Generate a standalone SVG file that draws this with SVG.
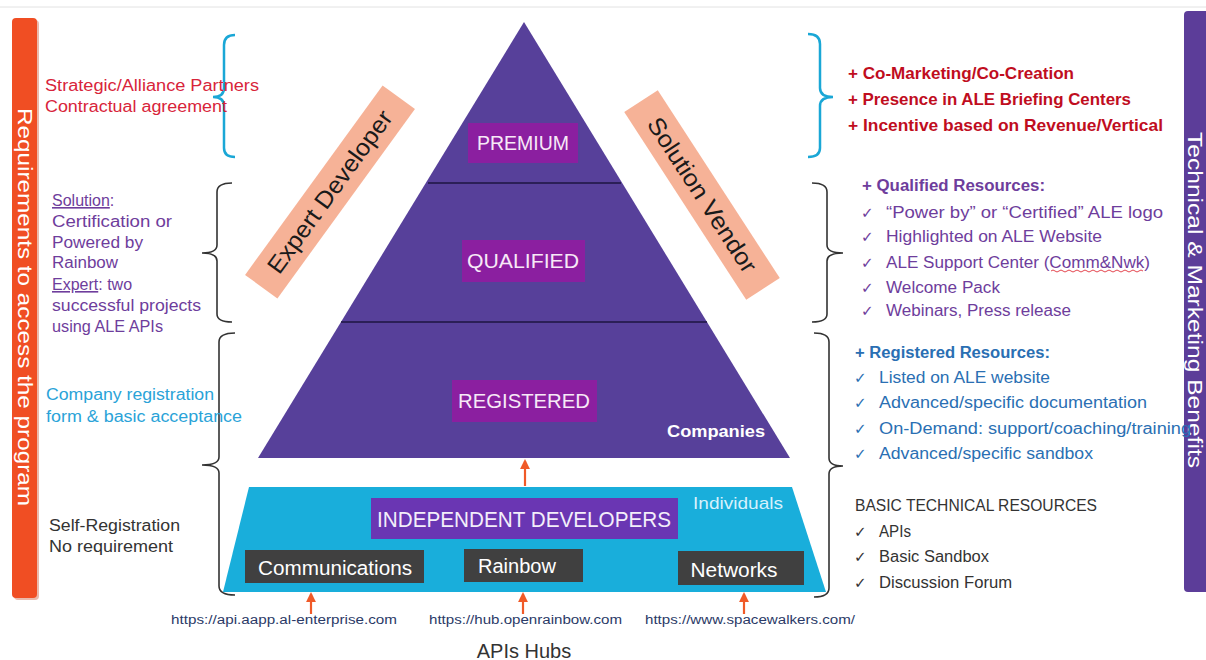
<svg xmlns="http://www.w3.org/2000/svg" width="1206" height="660" viewBox="0 0 1206 660">
<defs>
<style>
text{font-family:"Liberation Sans",Arial,sans-serif}
.ck{font-family:"DejaVu Sans",sans-serif;font-size:15px}
.lt{font-size:16px}
.red{fill:#d8243a}
.pur{fill:#6e3d9c}
.blu{fill:#2a6fb3}
.cya{fill:#2aa3d8}
.gry{fill:#333}
.rb{fill:#c00d1e;font-weight:bold;font-size:17px}
.lvl{fill:#f7e9f7;font-size:21px;text-anchor:middle}
.hub{fill:#fff;font-size:20px;text-anchor:middle}
.url{fill:#2b3a67;font-size:12.5px}
.brc{fill:none;stroke:#333;stroke-width:1.6}
.brcy{fill:none;stroke:#1aa7d6;stroke-width:2.5}
.arr{stroke:#f05a28;stroke-width:2.2;fill:none;marker-end:url(#ah)}
.band{fill:#f6b297}
.bt{font-size:24px;fill:#1a1a1a;text-anchor:middle}
</style>
<marker id="ah" viewBox="0 0 10 10" refX="8" refY="5" markerWidth="4.5" markerHeight="4.5" orient="auto-start-reverse">
<path d="M0,0 L10,5 L0,10 z" fill="#f05a28"/>
</marker>
</defs>
<rect width="1206" height="660" fill="#fff"/>
<line x1="0" y1="7" x2="1206" y2="7" stroke="#e2e2e2" stroke-width="1"/>

<g id="left-bar">
<rect x="14" y="20" width="25" height="580" rx="4" fill="#c23a12" opacity="0.35"/>
<rect x="12" y="18" width="25" height="580" rx="4" fill="#f04e23"/>
<text transform="translate(25,307) rotate(90)" text-anchor="middle" dy="7" font-size="21" fill="#fff" textLength="398" lengthAdjust="spacingAndGlyphs">Requirements to access the program</text>
</g>

<g id="right-bar">
<rect x="1184" y="11" width="26" height="581" rx="4" fill="#5c3d99"/>
<text transform="translate(1195,300) rotate(90)" text-anchor="middle" dy="7" font-size="20" fill="#fff" textLength="336" lengthAdjust="spacingAndGlyphs">Technical &amp; Marketing Benefits</text>
</g>

<g id="pyramid">
<polygon points="524,22 790,458 258,458" fill="#57409a"/>
<line x1="428" y1="183" x2="621" y2="183" stroke="#1d1440" stroke-width="1.5"/>
<line x1="341" y1="322" x2="707" y2="322" stroke="#1d1440" stroke-width="1.5"/>
</g>
<g id="premium">
<rect x="468" y="123" width="110" height="40" fill="#8b1fa0"/>
<text class="lvl" x="523" y="150" textLength="92" lengthAdjust="spacingAndGlyphs">PREMIUM</text>
</g>
<g id="qualified">
<rect x="462" y="240" width="123" height="42" fill="#8b1fa0"/>
<text class="lvl" x="523" y="268" textLength="112" lengthAdjust="spacingAndGlyphs">QUALIFIED</text>
</g>
<g id="registered">
<rect x="452" y="380" width="145" height="42" fill="#8b1fa0"/>
<text class="lvl" x="524" y="408" textLength="132" lengthAdjust="spacingAndGlyphs">REGISTERED</text>
</g>
<g id="companies">
<text x="716" y="437" text-anchor="middle" font-size="16" font-weight="bold" fill="#fff" textLength="98" lengthAdjust="spacingAndGlyphs">Companies</text>
</g>

<g id="expert-developer">
<g transform="translate(330,192) rotate(-54)">
<rect class="band" x="-117" y="-20" width="234" height="40"/>
<text class="bt" x="0" y="8" textLength="195" lengthAdjust="spacingAndGlyphs">Expert Developer</text>
</g>
</g>
<g id="solution-vendor">
<g transform="translate(702,195) rotate(57)">
<rect class="band" x="-112" y="-20" width="224" height="40"/>
<text class="bt" x="0" y="8" textLength="180" lengthAdjust="spacingAndGlyphs">Solution Vendor</text>
</g>
</g>

<g id="independent-developers">
<polygon points="249,487 792,487 826,592 223,592" fill="#19aedb"/>
<rect x="371" y="498" width="307" height="41" fill="#6a36b3"/>
<text x="524" y="527" text-anchor="middle" font-size="22" fill="#f3eefa" textLength="294" lengthAdjust="spacingAndGlyphs">INDEPENDENT DEVELOPERS</text>
<text x="738" y="509" text-anchor="middle" font-size="17" fill="#d6f1fb" textLength="90" lengthAdjust="spacingAndGlyphs">Individuals</text>
</g>
<g id="communications">
<rect x="245" y="550" width="179" height="33" fill="#404040"/>
<text class="hub" x="335" y="575" textLength="154" lengthAdjust="spacingAndGlyphs">Communications</text>
</g>
<g id="rainbow">
<rect x="464" y="549" width="119" height="33" fill="#404040"/>
<text class="hub" x="517" y="573" textLength="78" lengthAdjust="spacingAndGlyphs">Rainbow</text>
</g>
<g id="networks">
<rect x="678" y="551" width="126" height="34" fill="#404040"/>
<text class="hub" x="734" y="577" textLength="87" lengthAdjust="spacingAndGlyphs">Networks</text>
</g>

<g id="connectors">
<line class="arr" x1="525" y1="486" x2="525" y2="461"/>
<line class="arr" x1="311" y1="614" x2="311" y2="594"/>
<line class="arr" x1="523" y1="614" x2="523" y2="594"/>
<line class="arr" x1="744" y1="614" x2="744" y2="594"/>
</g>

<g id="braces">
<path class="brcy" d="M235,35 Q224,35 224,45 L224,88 Q224,97 213,97 Q224,97 224,106 L224,148 Q224,157 235,157"/>
<path class="brc" d="M232,183 Q217,183 217,192 L217,245 Q217,253 202,253 Q217,253 217,261 L217,314 Q217,322 232,322"/>
<path class="brc" d="M235,333 Q219,333 219,342 L219,457 Q219,465 202,465 Q219,465 219,473 L219,586 Q219,595 235,595"/>
<path class="brcy" d="M808,34 Q820,34 820,44 L820,88 Q820,97 833,97 Q820,97 820,106 L820,148 Q820,157 808,157"/>
<path class="brc" d="M812,183 Q827,183 827,192 L827,245 Q827,253 843,253 Q827,253 827,261 L827,314 Q827,322 812,322"/>
<path class="brc" d="M814,333 Q829,333 829,342 L829,458 Q829,466 843,466 Q829,466 829,474 L829,588 Q829,597 814,597"/>
</g>

<g id="premium-requirements">
<text class="lt red" x="45" y="91" textLength="214" lengthAdjust="spacingAndGlyphs">Strategic/Alliance Partners</text>
<text class="lt red" x="45" y="112" textLength="182" lengthAdjust="spacingAndGlyphs">Contractual agreement</text>
</g>
<g id="qualified-requirements" class="pur">
<text class="lt pur" x="52" y="206"><tspan style="text-decoration:underline">Solution</tspan>:</text>
<text class="lt pur" x="52" y="227" textLength="120" lengthAdjust="spacingAndGlyphs">Certification or</text>
<text class="lt pur" x="52" y="248" textLength="91" lengthAdjust="spacingAndGlyphs">Powered by</text>
<text class="lt pur" x="52" y="268" textLength="66" lengthAdjust="spacingAndGlyphs">Rainbow</text>
<text class="lt pur" x="52" y="290"><tspan style="text-decoration:underline">Expert</tspan>: two</text>
<text class="lt pur" x="52" y="311" textLength="149" lengthAdjust="spacingAndGlyphs">successful projects</text>
<text class="lt pur" x="52" y="332" textLength="111" lengthAdjust="spacingAndGlyphs">using ALE APIs</text>
</g>
<g id="registered-requirements">
<text class="lt cya" x="46" y="400" textLength="168" lengthAdjust="spacingAndGlyphs">Company registration</text>
<text class="lt cya" x="46" y="422" textLength="196" lengthAdjust="spacingAndGlyphs">form &amp; basic acceptance</text>
</g>
<g id="individual-requirements">
<text class="lt gry" x="49" y="531" textLength="131" lengthAdjust="spacingAndGlyphs">Self-Registration</text>
<text class="lt gry" x="49" y="552" textLength="124" lengthAdjust="spacingAndGlyphs">No requirement</text>
</g>

<g id="premium-benefits">
<text class="rb" x="848" y="79" textLength="226" lengthAdjust="spacingAndGlyphs">+ Co-Marketing/Co-Creation</text>
<text class="rb" x="848" y="105" textLength="283" lengthAdjust="spacingAndGlyphs">+ Presence in ALE Briefing Centers</text>
<text class="rb" x="848" y="131" textLength="315" lengthAdjust="spacingAndGlyphs">+ Incentive based on Revenue/Vertical</text>
</g>
<g id="qualified-benefits">
<text class="lt pur" x="862" y="191" font-weight="bold" textLength="183" lengthAdjust="spacingAndGlyphs">+ Qualified Resources:</text>
<text class="ck pur" x="861" y="218">✓</text><text class="lt pur" x="886" y="218" textLength="277" lengthAdjust="spacingAndGlyphs">“Power by” or “Certified” ALE logo</text>
<text class="ck pur" x="861" y="242">✓</text><text class="lt pur" x="886" y="242" textLength="216" lengthAdjust="spacingAndGlyphs">Highlighted on ALE Website</text>
<text class="ck pur" x="861" y="268">✓</text><text class="lt pur" x="886" y="268" textLength="264" lengthAdjust="spacingAndGlyphs">ALE Support Center (Comm&amp;Nwk)</text>
<path d="M1051,271 q2,-2 4,0 t4,0 t4,0 t4,0 t4,0 t4,0 t4,0 t4,0 t4,0 t4,0 t4,0 t4,0 t4,0 t4,0 t4,0 t4,0 t4,0 t4,0 t4,0 t4,0 t4,0 t4,0 t4,0" fill="none" stroke="#e0303a" stroke-width="0.9"/>
<text class="ck pur" x="861" y="293">✓</text><text class="lt pur" x="886" y="293" textLength="114" lengthAdjust="spacingAndGlyphs">Welcome Pack</text>
<text class="ck pur" x="861" y="316">✓</text><text class="lt pur" x="886" y="316" textLength="185" lengthAdjust="spacingAndGlyphs">Webinars, Press release</text>
</g>
<g id="registered-benefits">
<text class="lt blu" x="855" y="358" font-weight="bold" textLength="195" lengthAdjust="spacingAndGlyphs">+ Registered Resources:</text>
<text class="ck blu" x="854" y="383">✓</text><text class="lt blu" x="879" y="383" textLength="171" lengthAdjust="spacingAndGlyphs">Listed on ALE website</text>
<text class="ck blu" x="854" y="408">✓</text><text class="lt blu" x="879" y="408" textLength="268" lengthAdjust="spacingAndGlyphs">Advanced/specific documentation</text>
<text class="ck blu" x="854" y="434">✓</text><text class="lt blu" x="879" y="434" textLength="312" lengthAdjust="spacingAndGlyphs">On-Demand: support/coaching/training</text>
<text class="ck blu" x="854" y="459">✓</text><text class="lt blu" x="879" y="459" textLength="214" lengthAdjust="spacingAndGlyphs">Advanced/specific sandbox</text>
</g>
<g id="basic-benefits">
<text class="lt gry" x="855" y="511" textLength="242" lengthAdjust="spacingAndGlyphs">BASIC TECHNICAL RESOURCES</text>
<text class="ck gry" x="854" y="537">✓</text><text class="lt gry" x="879" y="537" textLength="32" lengthAdjust="spacingAndGlyphs">APIs</text>
<text class="ck gry" x="854" y="562">✓</text><text class="lt gry" x="879" y="562" textLength="110" lengthAdjust="spacingAndGlyphs">Basic Sandbox</text>
<text class="ck gry" x="854" y="588">✓</text><text class="lt gry" x="879" y="588" textLength="133" lengthAdjust="spacingAndGlyphs">Discussion Forum</text>
</g>

<g id="api-hubs">
<text class="url" x="171" y="624" textLength="226" lengthAdjust="spacingAndGlyphs">https://api.aapp.al-enterprise.com</text>
<text class="url" x="429" y="624" textLength="193" lengthAdjust="spacingAndGlyphs">https://hub.openrainbow.com</text>
<text class="url" x="645" y="624" textLength="210" lengthAdjust="spacingAndGlyphs">https://www.spacewalkers.com/</text>
<text x="524" y="658" text-anchor="middle" font-size="20" fill="#333">APIs Hubs</text>
</g>
</svg>
